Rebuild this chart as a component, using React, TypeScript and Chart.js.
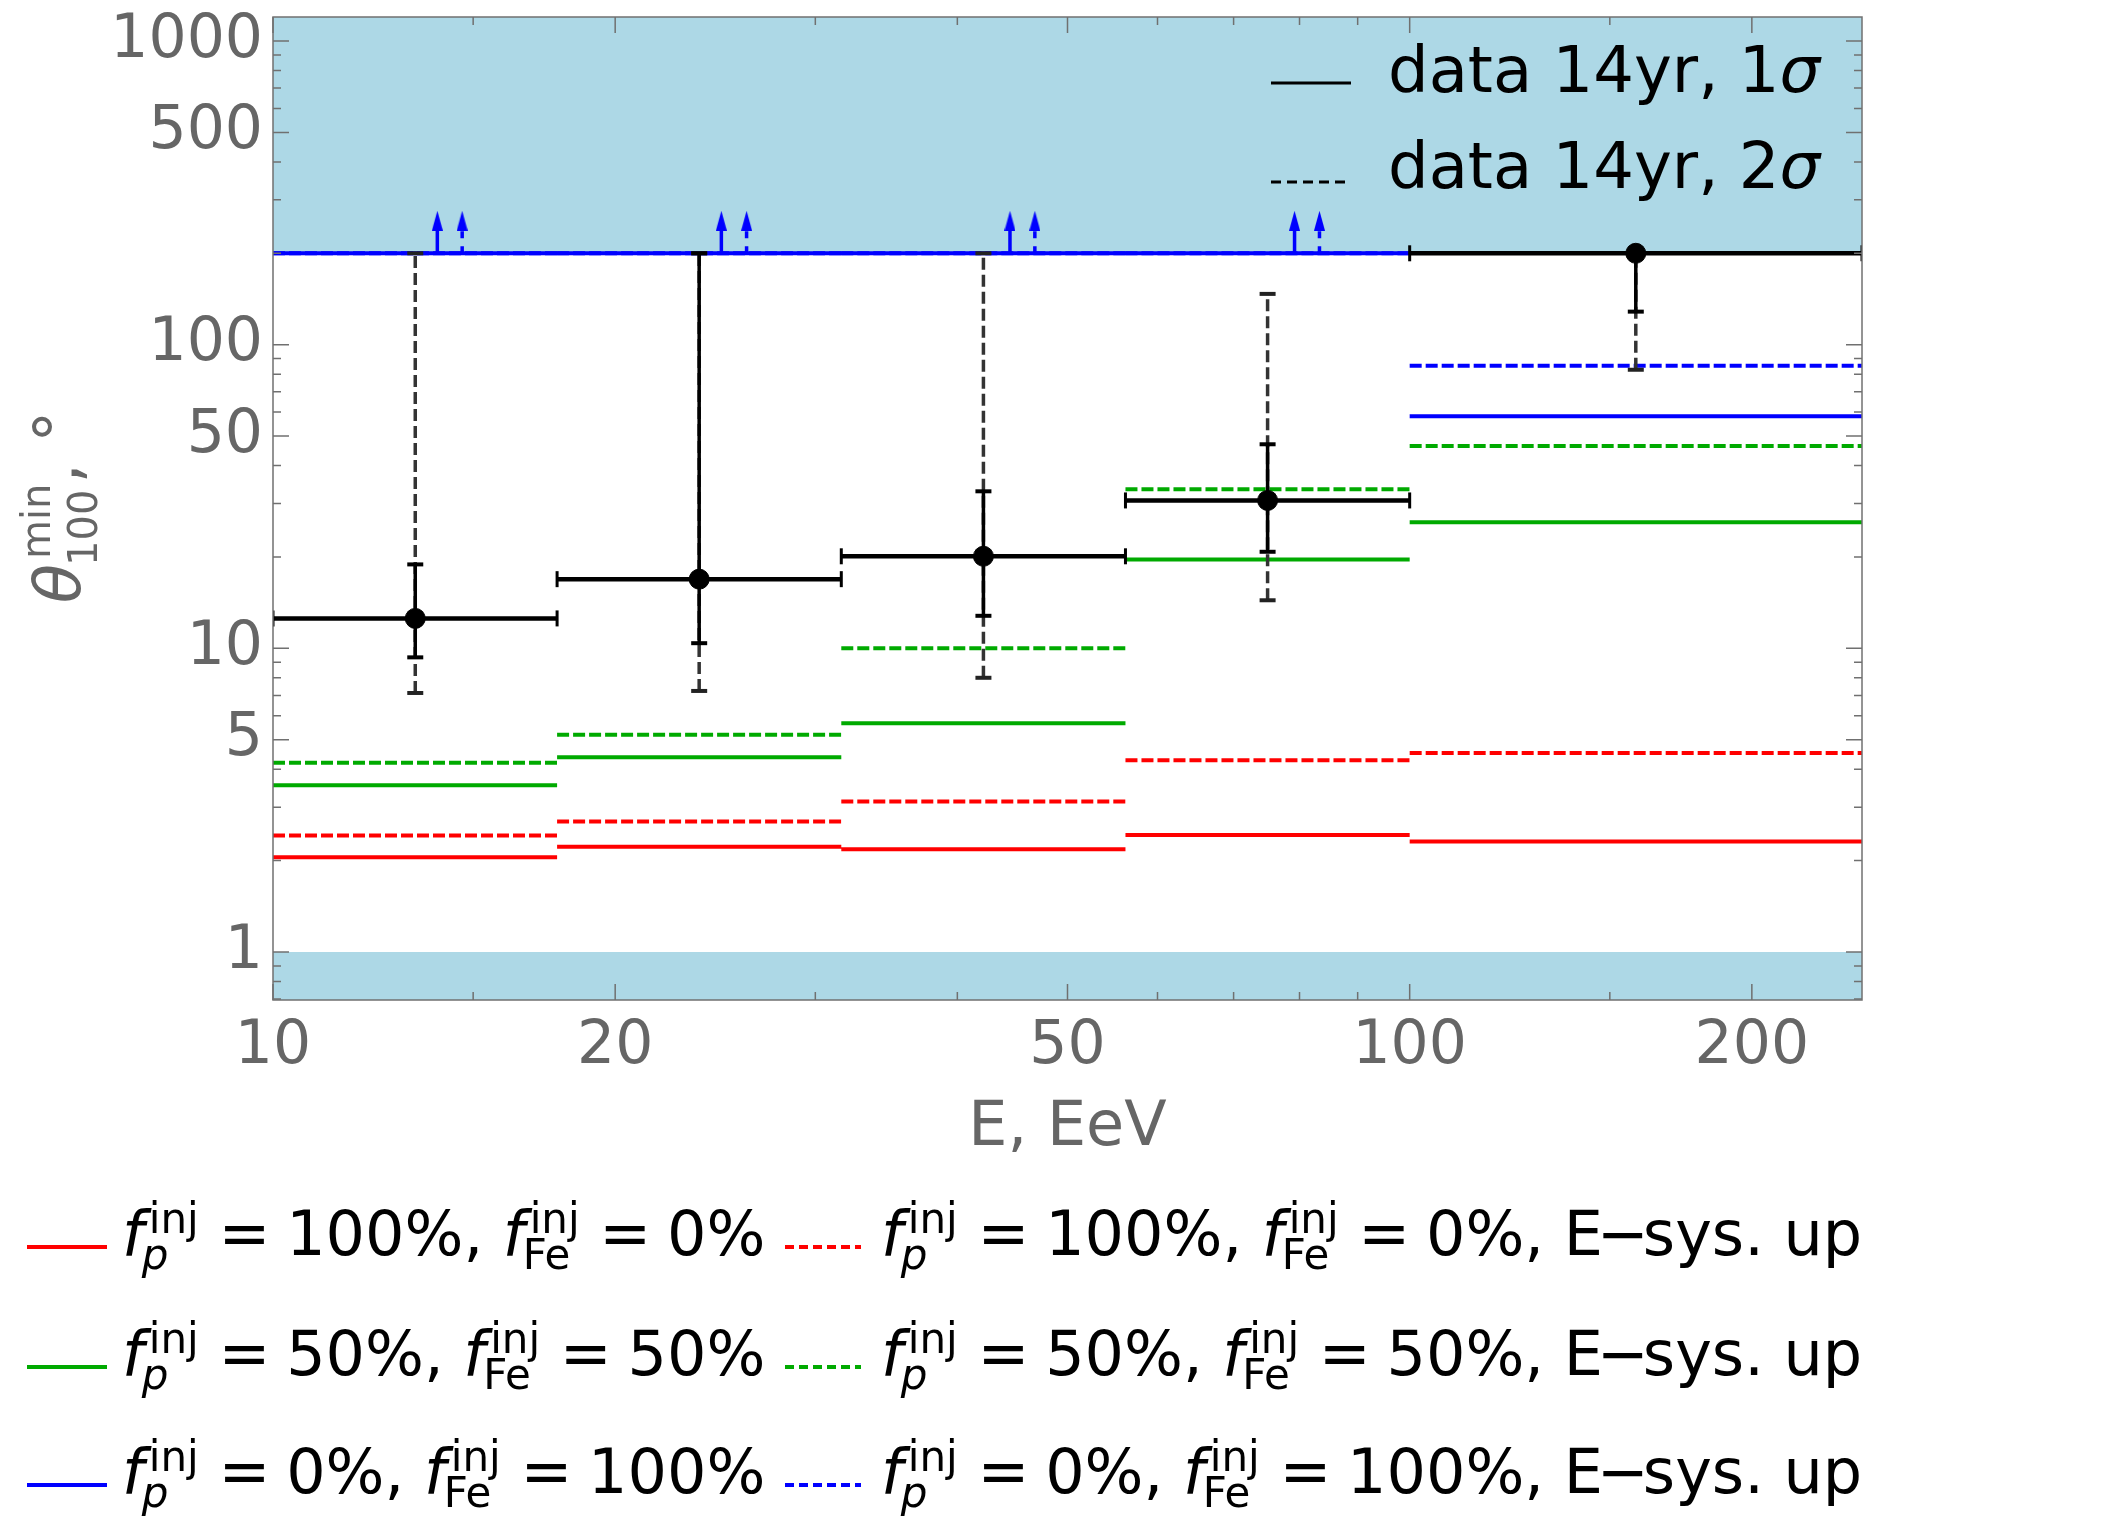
import { useEffect, useRef } from 'react'
import Chart from 'chart.js/auto'

// bin edges and data points, E in EeV, theta in degrees
const BIN_EDGES = [10, 17.78, 31.62, 56.23, 100, 250]
const DATA_E = [13.34, 23.71, 42.17, 74.99, 158.1]
const DATA_THETA = [12.55, 16.9, 20.1, 30.7, 200]
const SIGMA1_LO = [9.34, 10.4, 12.8, 20.8, 128.5]
const SIGMA1_HI = [18.9, 200, 32.9, 47, 200]
const SIGMA2_LO = [7.13, 7.24, 8.0, 14.4, 82.7]
const SIGMA2_HI = [200, 200, 200, 147, 200]

// model lower bounds per bin
const P100_FE0 = [2.05, 2.22, 2.18, 2.43, 2.31]
const P100_FE0_UP = [2.42, 2.69, 3.13, 4.28, 4.52]
const P50_FE50 = [3.54, 4.38, 5.67, 19.6, 26.0]
const P50_FE50_UP = [4.2, 5.19, 10.0, 33.4, 46.4]
const P0_FE100 = [200, 200, 200, 200, 58.1]
const P0_FE100_UP = [200, 200, 200, 200, 85.3]

// lower-limit arrows for the pure iron case
const ARROW_E = [13.95, 24.8, 44.5, 79.2]
const ARROW_E_UP = [14.67, 26.1, 46.8, 83.3]
const ARROW_FROM = 200
const ARROW_TO = 256

const EXCLUDED_ABOVE = 200
const EXCLUDED_BELOW = 1

const X_RANGE = [10, 250]
const Y_RANGE = [0.695, 1200]
const X_MAJOR = [10, 20, 50, 100, 200]
const X_MINOR = [15, 30, 40, 60, 70, 80, 90, 150]
const Y_MAJOR = [1, 5, 10, 50, 100, 500, 1000]
const Y_MINOR = [0.7, 0.8, 0.9, 2, 3, 4, 6, 7, 8, 9, 20, 30, 40, 60, 70, 80, 90, 200, 300, 400, 600, 700, 800, 900]

const PROTON_FRAC = ['100%', '50%', '0%']
const IRON_FRAC = ['0%', '50%', '100%']
const SERIES_COLORS = ['#ff0000', '#00aa00', '#0000ff']
const SERIES_NOMINAL = [P100_FE0, P50_FE50, P0_FE100]
const SERIES_ESYS = [P100_FE0_UP, P50_FE50_UP, P0_FE100_UP]

const W = 2103
const H = 1530
const FAMILY = '"DejaVu Sans", sans-serif'
const GRAY = '#666666'

const font = (size: number, italic?: boolean) => `${italic ? 'italic ' : ''}${size}px ${FAMILY}`

type Piece =
  | { text: string; italic?: boolean }
  | { sup: string; sub: string; subItalic?: boolean }
  | { gap: number }

function drawRich(
  ctx: CanvasRenderingContext2D, x0: number, y0: number, pieces: Piece[],
  o: { size: number; script: number; rise: number; drop: number }
) {
  let x = x0
  for (const p of pieces) {
    if ('gap' in p) {
      x += p.gap
    } else if ('text' in p) {
      ctx.font = font(o.size, p.italic)
      ctx.fillText(p.text, x, y0)
      x += ctx.measureText(p.text).width
    } else {
      ctx.font = font(o.script)
      ctx.fillText(p.sup, x + 5, y0 - o.rise)
      const ws = ctx.measureText(p.sup).width + 5
      ctx.font = font(o.script, p.subItalic)
      ctx.fillText(p.sub, x - 2, y0 + o.drop)
      const wb = ctx.measureText(p.sub).width - 2
      x += Math.max(ws, wb)
    }
  }
  return x
}

const seriesLabel = (i: number, esys: boolean): Piece[] => {
  const pieces: Piece[] = [
    { text: 'f', italic: true }, { sup: 'inj', sub: 'p', subItalic: true }, { text: ' = ' }, { gap: -4 },
    { text: `${PROTON_FRAC[i]}, ` },
    { text: 'f', italic: true }, { sup: 'inj', sub: 'Fe' }, { text: ' = ' }, { gap: -4 },
    { text: IRON_FRAC[i] },
  ]
  if (esys) pieces.push({ text: ', E' }, { gap: -6 }, { text: '\u2212' }, { gap: -6 }, { text: 'sys. up' })
  return pieces
}

const framePlugin = {
  id: 'frame',
  afterDatasetsDraw(chart: any) {
    const { ctx, chartArea: a, scales: { x, y } } = chart
    ctx.save()
    ctx.strokeStyle = '#707070'
    ctx.lineWidth = 1.5
    ctx.setLineDash([])
    ctx.strokeRect(a.left, a.top, a.right - a.left, a.bottom - a.top)
    const yTick = (v: number, len: number) => {
      const py = y.getPixelForValue(v)
      if (py < a.top || py > a.bottom) return
      ctx.beginPath()
      ctx.moveTo(a.left, py); ctx.lineTo(a.left + len, py)
      ctx.moveTo(a.right, py); ctx.lineTo(a.right - len, py)
      ctx.stroke()
    }
    const xTick = (v: number, len: number) => {
      const px = x.getPixelForValue(v)
      ctx.beginPath()
      ctx.moveTo(px, a.bottom); ctx.lineTo(px, a.bottom - len)
      ctx.moveTo(px, a.top); ctx.lineTo(px, a.top + len)
      ctx.stroke()
    }
    Y_MAJOR.forEach(v => yTick(v, 16))
    Y_MINOR.forEach(v => yTick(v, 8))
    X_MAJOR.forEach(v => xTick(v, 16))
    X_MINOR.forEach(v => xTick(v, 8))
    ctx.restore()
  },
  afterDraw(chart: any) {
    const { ctx } = chart
    ctx.save()
    ctx.textAlign = 'left'
    ctx.textBaseline = 'alphabetic'

    // legend for the data error bars, inside the plot
    ctx.strokeStyle = '#000'
    ctx.fillStyle = '#000'
    ctx.lineWidth = 3
    const inner = [
      { y: 92, ly: 83, dash: [] as number[], sigma: '1' },
      { y: 188, ly: 182, dash: [10, 6], sigma: '2' },
    ]
    inner.forEach(r => {
      ctx.setLineDash(r.dash)
      ctx.beginPath(); ctx.moveTo(1271, r.ly); ctx.lineTo(1351, r.ly); ctx.stroke()
      drawRich(ctx, 1388, r.y, [{ text: `data 14yr, ${r.sigma}` }, { text: '\u03c3', italic: true }],
        { size: 64, script: 42, rise: 22, drop: 14 })
    })

    // legend for the model curves, below the plot
    const rows = [1255, 1375, 1493]
    const opt = { size: 62, script: 42, rise: 22, drop: 14 }
    rows.forEach((by, i) => {
      ctx.strokeStyle = SERIES_COLORS[i]
      ctx.lineWidth = 4
      ctx.setLineDash([])
      ctx.beginPath(); ctx.moveTo(27, by - 8); ctx.lineTo(107, by - 8); ctx.stroke()
      ctx.setLineDash([9, 5])
      ctx.beginPath(); ctx.moveTo(785, by - 8); ctx.lineTo(861, by - 8); ctx.stroke()
      ctx.setLineDash([])
      ctx.fillStyle = '#000'
      drawRich(ctx, 122, by, seriesLabel(i, false), opt)
      drawRich(ctx, 881, by, seriesLabel(i, true), opt)
    })

    // rotated y-axis title
    const yTitle: Piece[] = [{ text: '\u03b8', italic: true }, { sup: 'min', sub: '100' }, { text: ', \u00b0' }]
    const opts = { size: 64, script: 40, rise: 30, drop: 17 }
    const probe = document.createElement('canvas').getContext('2d') as CanvasRenderingContext2D
    const len = drawRich(probe, 0, 0, yTitle, opts)
    ctx.translate(80, 507 + len / 2)
    ctx.rotate(-Math.PI / 2)
    ctx.fillStyle = GRAY
    drawRich(ctx, 0, 0, yTitle, opts)
    ctx.restore()
  },
}

const steps = (vals: number[]) =>
  vals.flatMap((v, i) => [
    { x: BIN_EDGES[i], y: v }, { x: BIN_EDGES[i + 1], y: v }, { x: BIN_EDGES[i + 1], y: null },
  ])

const verticals = (xs: number[], lo: (i: number) => number, hi: (i: number) => number) =>
  xs.flatMap((x, i) => [{ x, y: lo(i) }, { x, y: hi(i) }, { x, y: null }])

export default function App() {
  const chartRef = useRef<HTMLCanvasElement>(null)
  const chartInstance = useRef<Chart | null>(null)

  useEffect(() => {
    if (!chartRef.current) return
    if (chartInstance.current) chartInstance.current.destroy()
    const ctx = chartRef.current.getContext('2d')
    if (!ctx) return

    // narrow arrow head used as point style
    const head = document.createElement('canvas')
    head.width = 11
    head.height = 20
    const hc = head.getContext('2d') as CanvasRenderingContext2D
    hc.fillStyle = '#0000ff'
    hc.beginPath(); hc.moveTo(5.5, 0); hc.lineTo(11, 20); hc.lineTo(0, 20); hc.closePath(); hc.fill()

    const band = (y: number, fill: string) => ({
      data: [{ x: X_RANGE[0], y }, { x: X_RANGE[1], y }],
      showLine: true, fill, backgroundColor: '#add8e6', borderColor: 'rgba(0,0,0,0)',
      borderWidth: 1, pointRadius: 0, order: 20,
    })

    const datasets: any[] = [
      band(EXCLUDED_ABOVE, 'end'),
      band(EXCLUDED_BELOW, 'start'),
      ...SERIES_ESYS.map((vals, k) => ({
        data: steps(vals), showLine: true, borderColor: SERIES_COLORS[k], borderWidth: 4,
        borderDash: [12, 4], pointRadius: 0, order: 12,
      })),
      ...SERIES_NOMINAL.map((vals, k) => ({
        data: steps(vals), showLine: true, borderColor: SERIES_COLORS[k], borderWidth: 4,
        pointRadius: 0, order: 11,
      })),
      {
        data: verticals(ARROW_E, () => ARROW_FROM, () => ARROW_TO), showLine: true,
        borderColor: '#0000ff', borderWidth: 3.5, pointRadius: 0, order: 9,
      },
      {
        data: verticals(ARROW_E_UP, () => ARROW_FROM, () => ARROW_TO), showLine: true,
        borderColor: '#0000ff', borderWidth: 3.5, borderDash: [7, 8], pointRadius: 0, order: 9,
      },
      {
        data: ARROW_E.concat(ARROW_E_UP).map(x => ({ x, y: ARROW_TO })), showLine: false,
        pointStyle: head, pointRadius: 10, order: 8,
      },
      {
        data: verticals(DATA_E, i => SIGMA2_LO[i], i => SIGMA2_HI[i]), showLine: true,
        borderColor: '#333', borderWidth: 3.5, borderDash: [12, 5],
        pointStyle: 'line', pointRadius: 8, pointBorderColor: '#222', pointBorderWidth: 4, order: 5,
      },
      {
        data: verticals(DATA_E, i => SIGMA1_LO[i], i => SIGMA1_HI[i]), showLine: true,
        borderColor: '#000', borderWidth: 3.5,
        pointStyle: 'line', pointRadius: 8, pointBorderColor: '#000', pointBorderWidth: 4, order: 4,
      },
      {
        data: steps(DATA_THETA), showLine: true, borderColor: '#000', borderWidth: 4.5,
        pointStyle: 'line', pointRotation: 90, pointRadius: 8, pointBorderColor: '#000',
        pointBorderWidth: 3, order: 3,
      },
      {
        data: DATA_E.map((x, i) => ({ x, y: DATA_THETA[i] })), showLine: false,
        pointRadius: 10, pointBackgroundColor: '#000', pointBorderColor: '#000', order: 1,
      },
    ]

    chartInstance.current = new Chart(ctx, {
      type: 'scatter',
      data: { datasets },
      options: {
        animation: false,
        responsive: false,
        events: [],
        layout: { padding: { left: 0, top: 17, right: W - 1862, bottom: 0 } },
        plugins: { legend: { display: false }, tooltip: { enabled: false } },
        scales: {
          x: {
            type: 'logarithmic',
            min: X_RANGE[0],
            max: X_RANGE[1],
            grid: { display: false, drawTicks: false },
            border: { display: false },
            afterBuildTicks: (axis: any) => { axis.ticks = X_MAJOR.map(v => ({ value: v })) },
            afterFit: (scale: any) => {
              scale.height = H - 1000
              scale.paddingLeft = 0
              scale.paddingRight = 0
            },
            ticks: {
              callback: (v: any) => String(v),
              autoSkip: false, maxRotation: 0, padding: 11,
              color: GRAY, font: { family: 'DejaVu Sans', size: 60 },
            },
            title: {
              display: true, text: 'E, EeV', color: GRAY,
              font: { family: 'DejaVu Sans', size: 62 },
              padding: { top: 0, bottom: 364 },
            },
          },
          y: {
            type: 'logarithmic',
            min: Y_RANGE[0],
            max: Y_RANGE[1],
            grid: { display: false, drawTicks: false },
            border: { display: false },
            afterBuildTicks: (axis: any) => { axis.ticks = Y_MAJOR.map(v => ({ value: v })) },
            afterFit: (scale: any) => {
              scale.width = 273
              scale.paddingTop = 0
              scale.paddingBottom = 0
            },
            ticks: {
              callback: (v: any) => String(v),
              autoSkip: false, padding: 10,
              color: GRAY, font: { family: 'DejaVu Sans', size: 60 },
            },
          },
        },
      },
      plugins: [framePlugin],
    } as any)

    return () => {
      if (chartInstance.current) {
        chartInstance.current.destroy()
        chartInstance.current = null
      }
    }
  }, [])

  return (
    <div style={{ position: 'absolute', left: 0, top: 0, width: W, height: H, background: '#fff' }}>
      <canvas ref={chartRef} width={W} height={H} style={{ display: 'block' }} />
    </div>
  )
}
